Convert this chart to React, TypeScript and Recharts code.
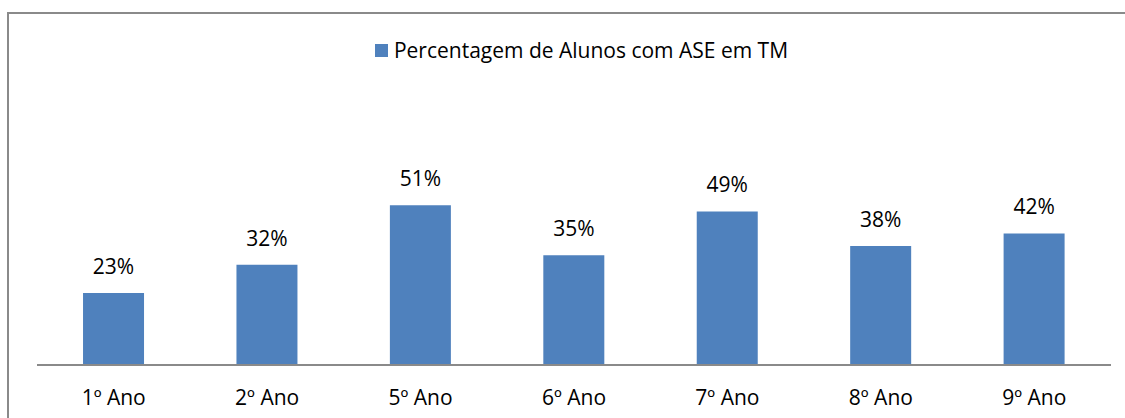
import React from "react";
import { BarChart, Bar, XAxis, YAxis, LabelList } from "recharts";

const categories = ["1º Ano", "2º Ano", "5º Ano", "6º Ano", "7º Ano", "8º Ano", "9º Ano"];
const values = [0.23, 0.32, 0.51, 0.35, 0.49, 0.38, 0.42];
const seriesName = "Percentagem de Alunos com ASE em TM";

const data = categories.map((c, i) => ({ name: c, value: values[i] }));

const FONT = "'Open Sans', 'Liberation Sans', sans-serif";
const BLUE = "#4F81BD";

export default function App() {
  return (
    <div style={{ position: "absolute", left: 0, top: 0, width: 1125, height: 418, background: "#fff", overflow: "hidden" }}>
      <div style={{ position: "absolute", left: 7, top: 12, width: 1130, height: 420, border: "2px solid #8a8a8a", boxSizing: "border-box" }} />
      <div style={{ position: "absolute", left: 0, top: 0 }}>
        <BarChart width={1125} height={418} data={data} margin={{ top: 177, right: 14, bottom: 13, left: 37 }} barCategoryGap="30%">
          <XAxis
            dataKey="name"
            height={40}
            axisLine={{ stroke: "#8a8a8a", strokeWidth: 2 }}
            tickLine={false}
            tick={{ fontFamily: FONT, fontSize: 21, fill: "#000" }}
            dy={17}
          />
          <YAxis hide domain={[0, 0.6]} />
          <Bar dataKey="value" name={seriesName} fill={BLUE} isAnimationActive={false}>
            <LabelList
              dataKey="value"
              position="top"
              offset={19}
              formatter={(v: number) => `${Math.round(v * 100)}%`}
              style={{ fontFamily: FONT, fontSize: 21, fill: "#000" }}
            />
          </Bar>
        </BarChart>
      </div>
      <div style={{ position: "absolute", top: 36, left: 45, width: 1073, display: "flex", alignItems: "center", justifyContent: "center", fontFamily: FONT, fontSize: 21, color: "#000", lineHeight: "28px" }}>
        <span style={{ display: "inline-block", width: 13, height: 13, background: BLUE, marginRight: 6 }} />
        <span>{seriesName}</span>
      </div>
    </div>
  );
}
